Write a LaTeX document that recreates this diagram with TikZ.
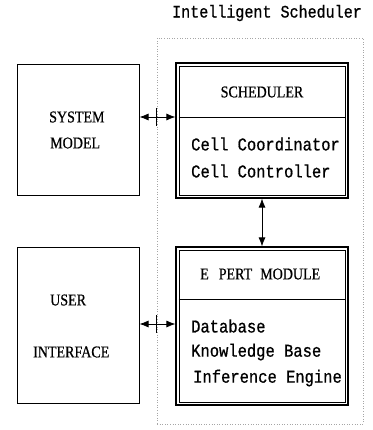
\documentclass[tikz,border=0pt]{standalone}
\usepackage{fontspec}
\setmainfont[FakeBold=0.6,FakeStretch=0.85]{Liberation Serif}
\newfontfamily\monof[FakeBold=0.8,FakeStretch=0.86]{Liberation Mono}
\usetikzlibrary{arrows.meta}
\begin{document}
\begin{tikzpicture}[x=1pt,y=-1pt,
  single/.style={draw, line width=1pt, inner sep=0pt},
  dblout/.style={draw, line width=1.2pt, inner sep=0pt},
  dblin/.style={draw, line width=0.8pt, inner sep=0pt},
  caps/.style={font=\fontsize{16.5}{18}\selectfont, inner sep=0pt},
  mono/.style={font=\monof\fontsize{18}{20}\selectfont, inner sep=0pt, anchor=west},
  link/.style={line width=0.8pt, {Latex[length=9pt,width=7pt]}-{Latex[length=9pt,width=7pt]}}]
\useasboundingbox (0,0) rectangle (372,430);
% outer dotted frame
\node[draw=gray!70, dotted, line width=0.6pt, minimum width=206pt, minimum height=386pt, inner sep=0pt] (frame) at (260,231) {};
\node[font=\monof\fontsize{17.5}{19}\selectfont, inner sep=0pt] (title) at (267,13) {Intelligent Scheduler};
% boxes
\node[single, minimum width=122pt, minimum height=130pt] (sys) at (78,130) {};
\node[single, minimum width=122pt, minimum height=156pt] (user) at (78,325) {};
\node[dblout, minimum width=172pt, minimum height=135pt] (sched) at (262,130.5) {};
\node[dblin, minimum width=166pt, minimum height=129pt] (schedin) at (262,130.5) {};
\node[dblout, minimum width=172pt, minimum height=158pt] (exp) at (262,326) {};
\node[dblin, minimum width=166pt, minimum height=152pt] (expin) at (262,326) {};
% dividers
\coordinate (sdiv) at (176,117);
\coordinate (ediv) at (176,299);
\draw[line width=0.9pt] (schedin.west |- sdiv) -- (schedin.east |- sdiv);
\draw[line width=0.9pt] (expin.west |- ediv) -- (expin.east |- ediv);
% texts
\node[caps, anchor=west] (t1) at (49,117) {SYSTEM};
\node[caps, anchor=west] (t2) at (50,143) {MODEL};
\node[caps, anchor=west] (t3) at (50,300) {USER};
\node[caps, anchor=west] (t4) at (33,352) {INTERFACE};
\node[caps] (t5) at (262,92) {SCHEDULER};
\node[caps, anchor=west] (t6) at (200,274) {E\hspace{10pt}PERT\hspace{8pt}MODULE};
\node[mono] (t7) at (191,144) {Cell Coordinator};
\node[mono] (t8) at (191,171) {Cell Controller};
\node[mono] (t9) at (191,326) {Database};
\node[mono] (t10) at (191,352) {Knowledge Base};
\node[mono] (t11) at (193,378) {Inference Engine};
% connectors
\draw[link] (sys.east |- sdiv) -- (sched.west |- sdiv);
\draw[link] (user.east |- 0,324) -- (exp.west |- 0,324);
\draw[link] (sched.south) -- (exp.north);
% ticks on the frame
\draw[line width=0.6pt] (frame.west |- 0,108) -- (frame.west |- 0,126);
\draw[line width=0.6pt] (frame.west |- 0,315) -- (frame.west |- 0,333);
\end{tikzpicture}
\end{document}
